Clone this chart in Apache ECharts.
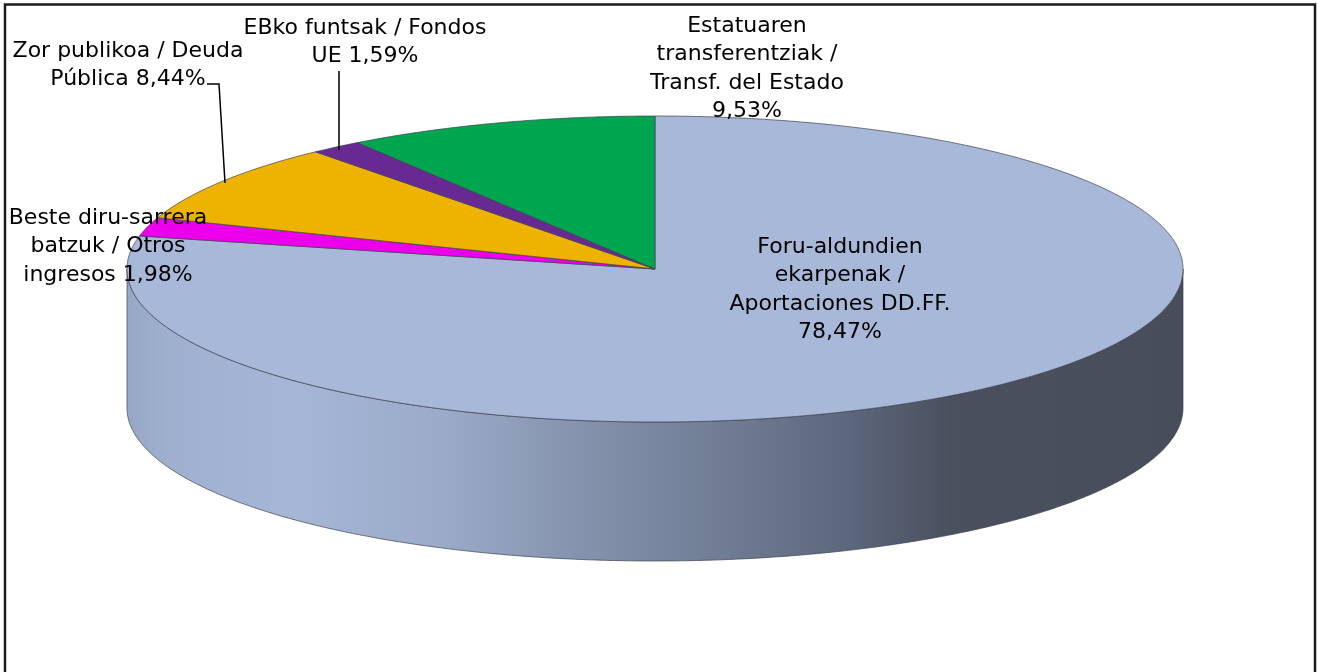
<!DOCTYPE html>
<html><head><meta charset="utf-8">
<style>html,body{margin:0;padding:0;background:#fff}#c{width:1318px;height:672px}</style>
<script src="https://cdn.jsdelivr.net/npm/echarts@6/dist/echarts.min.js"></script>
</head><body><div id="c"></div>
<script>
const categories = ['Foru-aldundien ekarpenak / Aportaciones DD.FF.','Beste diru-sarrera batzuk / Otros ingresos','Zor publikoa / Deuda Pública','EBko funtsak / Fondos UE','Estatuaren transferentziak / Transf. del Estado'];
const shares = [78.47,1.98,8.44,1.59,9.53];
const sliceColors = ['#A8B8D8','#EC00EC','#EEB300','#682A92','#00A64F'];
const labelLines = [
 ['Foru-aldundien','ekarpenak /','Aportaciones DD.FF.','78,47%'],
 ['Beste diru-sarrera','batzuk / Otros','ingresos 1,98%'],
 ['Zor publikoa / Deuda','Pública 8,44%'],
 ['EBko funtsak / Fondos','UE 1,59%'],
 ['Estatuaren','transferentziak /','Transf. del Estado','9,53%']
];
const labelAnchors = [[840,247],[108,218],[128,51],[365,28],[747,26]];
const leaders = {2:[[207,84],[219,84],[225,183]],3:[[339,71],[339,150]]};

const CX=655, CY=269, RX=528, RY=153, DEPTH=139, LH=28.5;
const total = shares.reduce((a,b)=>a+b,0);
const pt=(deg,dy=0)=>{const r=deg*Math.PI/180;return [CX+RX*Math.sin(r),CY+dy-RY*Math.cos(r)];};
const arc=(a,b,dy=0)=>{const n=Math.max(2,Math.ceil(Math.abs(b-a)*2)),o=[];for(let i=0;i<=n;i++)o.push(pt(a+(b-a)*i/n,dy));return o;};
const edge='rgba(62,66,80,0.7)';
const data = shares.map((v,i)=>{const s=shares.slice(0,i).reduce((a,b)=>a+b,0);return {name:categories[i],value:[s,v,i]};});

function renderSlice(params,api){
  const s=api.value(0),v=api.value(1),i=api.value(2);
  const a=s/total*360,b=(s+v)/total*360;
  const children=[];
  const fa=Math.max(a,90),fb=Math.min(b,270);
  if(fb>fa){
    children.push({type:'polygon',shape:{points:arc(fa,fb).concat(arc(fb,fa,DEPTH))},
      style:{fill:new echarts.graphic.LinearGradient(CX-RX,0,CX+RX,0,[
        {offset:0,color:'#97A8C6'},{offset:0.04,color:'#9FB0CF'},{offset:0.16,color:'#A5B6D7'},
        {offset:0.30,color:'#9AAAC7'},{offset:0.42,color:'#8694AF'},{offset:0.55,color:'#727F97'},
        {offset:0.68,color:'#5D687D'},{offset:0.78,color:'#4A505E'},{offset:1,color:'#474D5B'}],true),
        stroke:edge,lineWidth:1}});
  }
  children.push({type:'polygon',shape:{points:[[CX,CY]].concat(arc(a,b))},
    style:{fill:sliceColors[i],stroke:edge,lineWidth:1}});
  return {type:'group',children};
}
function renderLabel(params,api){
  const i=api.value(2);
  const children=[];
  labelLines[i].forEach((t,k)=>children.push({type:'text',style:{text:t,x:labelAnchors[i][0],y:labelAnchors[i][1]+k*LH,
    align:'center',verticalAlign:'middle',fill:'#000',font:'22px "DejaVu Sans"'}}));
  if(leaders[i]){
    children.push({type:'polyline',shape:{points:leaders[i]},style:{fill:null,stroke:'#000',lineWidth:1.5}});
  }
  return {type:'group',children};
}
const chart=echarts.init(document.getElementById('c'),null,{renderer:'canvas'});
chart.setOption({
  animation:false,backgroundColor:'#fff',
  graphic:[{type:'rect',shape:{x:5,y:4.5,width:1310,height:720},style:{fill:null,stroke:'#1a1a1a',lineWidth:2.5},z:50}],
  series:[
   {type:'custom',coordinateSystem:'none',data,renderItem:renderSlice,z:2,silent:true},
   {type:'custom',coordinateSystem:'none',data,renderItem:renderLabel,z:3,silent:true}
  ]
});
</script></body></html>
